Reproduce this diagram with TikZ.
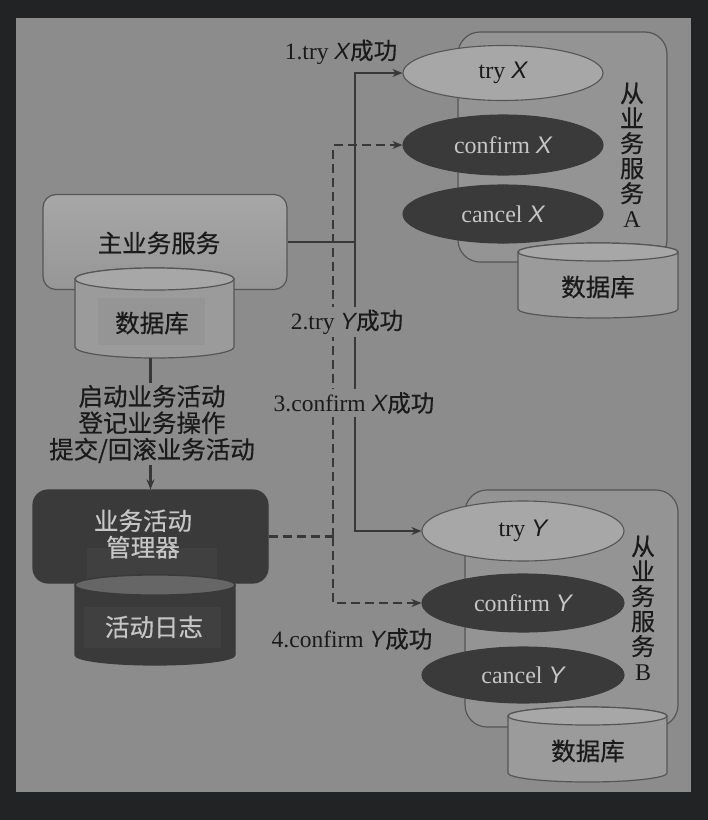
\documentclass[tikz,border=0pt]{standalone}
\usepackage{fontspec}
\setmainfont{Liberation Serif}
\newfontfamily\cjk{Noto Sans CJK SC}[FakeBold=0.5]
\newfontfamily\isans{Liberation Sans}
\usetikzlibrary{arrows.meta,shapes.geometric}
\definecolor{outerbg}{HTML}{222325}
\definecolor{panel}{HTML}{8C8C8C}
\definecolor{panelin}{HTML}{949494}
\definecolor{lightfill}{HTML}{9B9B9B}
\definecolor{lightcap}{HTML}{A7A7A7}
\definecolor{lightlow}{HTML}{969696}
\definecolor{textpatch}{HTML}{959595}
\definecolor{darkfill}{HTML}{3A3A3A}
\definecolor{darkpatch}{HTML}{404040}
\definecolor{darkcap}{HTML}{666666}
\definecolor{edge}{HTML}{555555}
\definecolor{linecol}{HTML}{383838}
\definecolor{lighttext}{HTML}{C6C6C6}
\definecolor{textcol}{HTML}{1A1A1A}
\newcommand\VX{{\isans\itshape X}}
\newcommand\VY{{\isans\itshape Y}}
\newcommand\drawcan[7]{% x1, x2, ytop, ry, ybot, body style, cap style
  \pgfmathsetmacro\canrx{(#2-#1)/2}
  \path[#6] (#1,#3) -- (#1,#5) arc[start angle=180,end angle=0,x radius=\canrx,y radius=#4]
     -- (#2,#3) arc[start angle=0,end angle=-180,x radius=\canrx,y radius=#4] -- cycle;
  \path[#7] ({(#1+#2)/2},#3) ellipse[x radius=\canrx,y radius=#4];
}
\tikzset{
  ell/.style={ellipse, inner sep=0pt, line width=1.1pt},
  lightell/.style={ell, draw=edge, fill=lightcap, text=textcol},
  darkell/.style={ell, draw=darkfill, fill=darkfill, text=lighttext},
  panelbox/.style={draw=edge, line width=1.2pt, fill=panelin, rounded corners=22pt},
  conn/.style={draw=linecol, line width=2.2pt},
  dconn/.style={draw=linecol, line width=2.2pt, dash pattern=on 9pt off 5pt},
  tip/.style={-{Stealth[length=10pt,width=8pt]}},
  lbl/.style={fill=panel, inner sep=3pt, text=textcol, font=\fontsize{23.5pt}{26pt}\selectfont},
  cjkt/.style={font=\cjk\fontsize{24.5pt}{26.5pt}\selectfont},
  latt/.style={font=\fontsize{24pt}{26pt}\selectfont},
  vtext/.style={text=textcol, align=center, font=\cjk\fontsize{24pt}{25pt}\selectfont},
  canlight/.style={draw=edge,line width=1.2pt,fill=lightfill},
  canlightcap/.style={draw=edge,line width=1.2pt,fill=lightcap},
  candark/.style={draw=darkfill,line width=1.2pt,fill=darkfill},
  candarkcap/.style={draw=darkfill,line width=1.2pt,fill=darkcap},
}
\begin{document}
\begin{tikzpicture}[x=1pt,y=-1pt]
\useasboundingbox (0,0) rectangle (708,820);
\fill[outerbg] (0,0) rectangle (708,820);
\fill[panel] (16,18) rectangle (691,792);

% ---------- main service ----------
\node[draw=edge, line width=1.2pt, rounded corners=13pt, top color=lightcap, bottom color=lightlow,
      minimum width=244pt, minimum height=95pt, inner sep=0pt] (main) at (165,242) {};
\node[cjkt, text=textcol] (mainT) at (159,243) {主业务服务};
\drawcan{75}{234}{279}{11}{347}{canlight}{canlightcap}
\fill[textpatch] (98,298) rectangle (205,345);
\node[cjkt, text=textcol] (dbM) at (152,323) {数据库};
\coordinate (dbMbot) at (150.5,358);

% ---------- operations text ----------
\node[cjkt, text=textcol, align=center, inner sep=2pt] (ops) at (152,424)
  {启动业务活动\\登记业务操作\\提交/回滚业务活动};

% ---------- manager ----------
\node[draw=darkfill, line width=1.2pt, rounded corners=15pt, fill=darkfill,
      minimum width=235pt, minimum height=93pt, inner sep=0pt] (mgr) at (150.5,536.5) {};
\fill[darkpatch] (87,548) rectangle (217,582);
\node[cjkt, text=lighttext, align=center] (mgrT) at (143,534) {业务活动\\管理器};
\drawcan{75}{235}{585}{10}{655}{candark}{candarkcap}
\fill[darkpatch] (84,607) rectangle (221,648);
\node[cjkt, text=lighttext] (logT) at (154,627) {活动日志};

% ---------- service A ----------
\path[panelbox] (458,32) rectangle (667,262);
\node[lightell, minimum width=200pt, minimum height=55pt, latt] (tryX) at (503,73) {try \VX};
\node[darkell, minimum width=200pt, minimum height=60pt, latt] (confirmX) at (503,145) {confirm \VX};
\node[darkell, minimum width=200pt, minimum height=58pt, latt] (cancelX) at (503,214) {cancel \VX};
\node[vtext] (svcA) at (632,155) {从\\业\\务\\服\\务\\{\rmfamily A}};
\drawcan{518}{678}{252}{9}{309}{canlight}{canlightcap}
\node[cjkt, text=textcol] (dbA) at (598,287) {数据库};

% ---------- service B ----------
\path[panelbox] (465,490) rectangle (678,727);
\node[lightell, minimum width=202pt, minimum height=60pt, latt] (tryY) at (523,531) {try \VY};
\node[darkell, minimum width=202pt, minimum height=58pt, latt] (confirmY) at (523,603) {confirm \VY};
\node[darkell, minimum width=202pt, minimum height=56pt, latt] (cancelY) at (523,675) {cancel \VY};
\node[vtext] (svcB) at (643,608) {从\\业\\务\\服\\务\\{\rmfamily B}};
\drawcan{508}{667}{716}{9}{773}{canlight}{canlightcap}
\node[cjkt, text=textcol] (dbB) at (588,751) {数据库};

% ---------- connectors ----------
\coordinate (jS) at (355,242);
\coordinate (jD) at (333,536.5);
\draw[conn] (dbMbot) -- (dbMbot |- ops.north);
\draw[conn, tip] (mgr.north |- ops.south) -- (mgr.north);
\draw[conn] (main.east) -- (jS);
\draw[conn, tip] (jS) |- (tryX.west);
\draw[conn, tip] (jS) |- (tryY.west);
\draw[dconn] (mgr.east) -- (jD);
\draw[dconn, tip] (jD) |- (confirmX.west);
\draw[dconn, tip] (jD) |- (confirmY.west);

% ---------- step labels ----------
\node[lbl] (l1) at (341,52) {1.try \VX{\cjk 成功}};
\node[lbl] (l2) at (347,322) {2.try \VY{\cjk 成功}};
\node[lbl] (l3) at (354,403) {3.confirm \VX{\cjk 成功}};
\node[lbl] (l4) at (352,639) {4.confirm \VY{\cjk 成功}};
\end{tikzpicture}
\end{document}
